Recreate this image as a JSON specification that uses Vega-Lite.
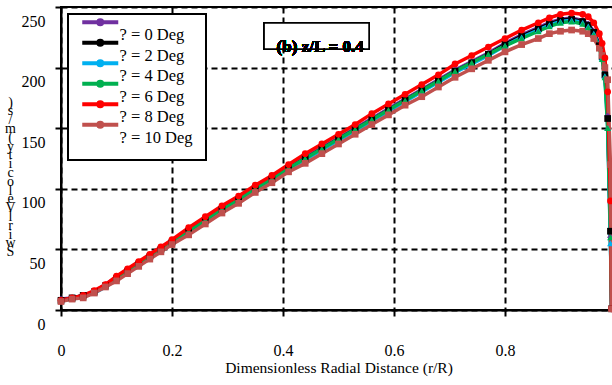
{
  "$schema": "https://vega.github.io/schema/vega-lite/v6.json",
  "autosize": {"type": "none"},
  "width": 555,
  "height": 303,
  "padding": {"left": 61, "top": 7, "right": -4, "bottom": 75},
  "background": "white",
  "config": {
    "font": "Liberation Serif",
    "view": {"stroke": "black", "strokeWidth": 2},
    "legend": {"strokeWidth": 2},
    "axis": {
      "labelFont": "Liberation Serif",
      "titleFont": "Liberation Serif",
      "labelColor": "black",
      "titleColor": "black",
      "domainColor": "black",
      "domainWidth": 2,
      "tickColor": "black",
      "tickWidth": 2,
      "tickSize": 6,
      "gridColor": "black",
      "gridWidth": 2,
      "gridDash": [6, 4],
      "gridOpacity": 1,
      "labelFontSize": 16,
      "labelFlush": false,
      "titleFontWeight": "normal"
    }
  },
  "data": {
    "values": [
      {"r": 0, "a0": 9, "a2": 8, "a4": 8, "a6": 8, "a8": 8, "a10": 7},
      {"r": 0.02, "a0": 10, "a2": 10, "a4": 9, "a6": 9, "a8": 10, "a10": 9},
      {"r": 0.04, "a0": 12, "a2": 12, "a4": 11, "a6": 11, "a8": 12, "a10": 10},
      {"r": 0.06, "a0": 15, "a2": 15, "a4": 14, "a6": 15, "a8": 16, "a10": 14},
      {"r": 0.08, "a0": 21, "a2": 20, "a4": 19, "a6": 20, "a8": 21, "a10": 19},
      {"r": 0.1, "a0": 27, "a2": 26, "a4": 25, "a6": 26, "a8": 28, "a10": 24},
      {"r": 0.12, "a0": 33, "a2": 32, "a4": 31, "a6": 32, "a8": 34, "a10": 30},
      {"r": 0.14, "a0": 39, "a2": 38, "a4": 37, "a6": 38, "a8": 40, "a10": 36},
      {"r": 0.16, "a0": 45, "a2": 44, "a4": 43, "a6": 44, "a8": 46, "a10": 42},
      {"r": 0.18, "a0": 51, "a2": 50, "a4": 49, "a6": 50, "a8": 52, "a10": 48},
      {"r": 0.2, "a0": 57, "a2": 56, "a4": 55, "a6": 56, "a8": 58, "a10": 54},
      {"r": 0.23, "a0": 66, "a2": 65, "a4": 64, "a6": 65, "a8": 68, "a10": 62},
      {"r": 0.26, "a0": 75, "a2": 74, "a4": 73, "a6": 74, "a8": 77, "a10": 71},
      {"r": 0.29, "a0": 84, "a2": 83, "a4": 82, "a6": 83, "a8": 86, "a10": 80},
      {"r": 0.32, "a0": 92, "a2": 91, "a4": 90, "a6": 91, "a8": 94, "a10": 88},
      {"r": 0.35, "a0": 101, "a2": 100, "a4": 99, "a6": 100, "a8": 103, "a10": 97},
      {"r": 0.38, "a0": 109, "a2": 108, "a4": 107, "a6": 108, "a8": 111, "a10": 105},
      {"r": 0.41, "a0": 118, "a2": 117, "a4": 116, "a6": 117, "a8": 120, "a10": 114},
      {"r": 0.44, "a0": 126, "a2": 125, "a4": 124, "a6": 125, "a8": 129, "a10": 121},
      {"r": 0.47, "a0": 134, "a2": 133, "a4": 132, "a6": 133, "a8": 137, "a10": 129},
      {"r": 0.5, "a0": 142, "a2": 141, "a4": 140, "a6": 141, "a8": 145, "a10": 137},
      {"r": 0.53, "a0": 150, "a2": 149, "a4": 148, "a6": 149, "a8": 153, "a10": 145},
      {"r": 0.56, "a0": 158, "a2": 157, "a4": 156, "a6": 157, "a8": 162, "a10": 153},
      {"r": 0.59, "a0": 166, "a2": 165, "a4": 164, "a6": 165, "a8": 170, "a10": 161},
      {"r": 0.62, "a0": 174, "a2": 173, "a4": 172, "a6": 173, "a8": 178, "a10": 169},
      {"r": 0.65, "a0": 182, "a2": 181, "a4": 180, "a6": 181, "a8": 186, "a10": 176},
      {"r": 0.68, "a0": 190, "a2": 189, "a4": 188, "a6": 189, "a8": 194, "a10": 184},
      {"r": 0.71, "a0": 198, "a2": 197, "a4": 196, "a6": 197, "a8": 203, "a10": 192},
      {"r": 0.74, "a0": 205, "a2": 204, "a4": 203, "a6": 204, "a8": 210, "a10": 199},
      {"r": 0.77, "a0": 212, "a2": 211, "a4": 210, "a6": 211, "a8": 217, "a10": 206},
      {"r": 0.8, "a0": 220, "a2": 219, "a4": 218, "a6": 218, "a8": 224, "a10": 213},
      {"r": 0.83, "a0": 227, "a2": 226, "a4": 225, "a6": 224, "a8": 231, "a10": 219},
      {"r": 0.86, "a0": 233, "a2": 232, "a4": 231, "a6": 230, "a8": 237, "a10": 224},
      {"r": 0.88, "a0": 237, "a2": 236, "a4": 235, "a6": 234, "a8": 241, "a10": 228},
      {"r": 0.9, "a0": 240, "a2": 239, "a4": 238, "a6": 237, "a8": 244, "a10": 230},
      {"r": 0.92, "a0": 241, "a2": 240, "a4": 239, "a6": 238, "a8": 245, "a10": 231},
      {"r": 0.94, "a0": 239, "a2": 238, "a4": 237, "a6": 236, "a8": 244, "a10": 230},
      {"r": 0.95, "a0": 236, "a2": 235, "a4": 234, "a6": 233, "a8": 242, "a10": 228},
      {"r": 0.96, "a0": 230, "a2": 229, "a4": 228, "a6": 227, "a8": 237, "a10": 224},
      {"r": 0.97, "a0": 219, "a2": 218, "a4": 217, "a6": 216, "a8": 228, "a10": 216},
      {"r": 0.975, "a0": 210, "a2": 209, "a4": 208, "a6": 207, "a8": 220, "a10": 210},
      {"r": 0.98, "a0": 195, "a2": 194, "a4": 193, "a6": 192, "a8": 208, "a10": 200},
      {"r": 0.985, "a0": 160, "a2": 158, "a4": 150, "a6": 150, "a8": 180, "a10": 190},
      {"r": 0.99, "a0": 60, "a2": 65, "a4": 55, "a6": 60, "a8": 90, "a10": 120},
      {"r": 0.992, "a0": 1, "a2": 1, "a4": 1, "a6": 1, "a8": 1, "a10": 1}
    ]
  },
  "resolve": {"scale": {"color": "independent", "shape": "independent"}, "legend": {"color": "independent"}},
  "layer": [
    {
      "transform": [{"fold": ["a0", "a2", "a4", "a6", "a8", "a10"], "as": ["s", "v"]}],
      "mark": {"type": "line", "strokeWidth": 3.5},
      "encoding": {
        "x": {
          "field": "r", "type": "quantitative",
          "scale": {"domain": [0, 1], "nice": false},
          "axis": {
            "values": [0, 0.2, 0.4, 0.6, 0.8, 1],
            "format": "~g",
            "labelPadding": 26,
            "title": "Dimensionless Radial Distance (r/R)",
            "titleFontSize": 15.5,
            "titlePadding": 2
          }
        },
        "y": {
          "field": "v", "type": "quantitative",
          "scale": {"domain": [0, 250], "nice": false},
          "axis": {
            "values": [0, 50, 100, 150, 200, 250],
            "labelPadding": 10,
            "labelOffset": 14,
            "title": [")", "s", "/", "m", "(", " ", "y", "t", "i", "c", "o", "l", "e", "V", " ", "l", "r", "i", "w", "S"],
            "titleAngle": 0,
            "titleFontSize": 14,
            "titleLineHeight": 8.8,
            "titleX": -51,
            "titleY": 88,
            "titleAlign": "center",
            "titleBaseline": "top"
          }
        },
        "color": {
          "field": "s", "type": "nominal",
          "scale": {
            "domain": ["a0", "a2", "a4", "a6", "a8", "a10"],
            "range": ["#7030A0", "#000000", "#00B0F0", "#00B050", "#FF0000", "#C0504D"]
          },
          "legend": {
            "title": null,
            "labelExpr": "'? = ' + slice(datum.label, 1) + ' Deg'",
            "orient": "none",
            "legendX": 7,
            "legendY": 7,
            "fillColor": "white",
            "strokeColor": "black",
            "padding": 13,
            "symbolType": "M-1.75,-3.25H7.25M2.25,-3.25A0.5,0.5 0 1 1 3.25,-3.25A0.5,0.5 0 1 1 2.25,-3.25",
            "symbolSize": 64,
            "symbolStrokeWidth": 4,
            "symbolOpacity": 1,
            "labelFont": "Liberation Serif",
            "labelFontSize": 16.5,
            "labelColor": "black",
            "labelOffset": 22,
            "rowPadding": -11.5
          }
        }
      }
    },
    {
      "transform": [{"fold": ["a0", "a2", "a4", "a6", "a8", "a10"], "as": ["t", "v"]}],
      "mark": {"type": "point", "filled": true, "size": 45, "opacity": 1},
      "encoding": {
        "x": {"field": "r", "type": "quantitative"},
        "y": {"field": "v", "type": "quantitative"},
        "color": {
          "field": "t", "type": "nominal",
          "scale": {
            "domain": ["a0", "a2", "a4", "a6", "a8", "a10"],
            "range": ["#7030A0", "#000000", "#00B0F0", "#00B050", "#FF0000", "#C0504D"]
          },
          "legend": null
        },
        "shape": {
          "field": "t", "type": "nominal",
          "scale": {
            "domain": ["a0", "a2", "a4", "a6", "a8", "a10"],
            "range": ["diamond", "square", "triangle-up", "triangle-up", "circle", "square"]
          },
          "legend": null
        }
      }
    },
    {
      "mark": {"type": "rect", "fill": "white", "stroke": "black", "strokeWidth": 1.5},
      "encoding": {
        "x": {"datum": 0.366},
        "x2": {"datum": 0.555},
        "y": {"datum": 215.3},
        "y2": {"datum": 236.8}
      }
    },
    {
      "mark": {"type": "text", "fontWeight": "bold", "fontSize": 17, "font": "Liberation Serif", "color": "black"},
      "encoding": {
        "x": {"datum": 0.467},
        "y": {"datum": 217},
        "text": {"value": "(b) z/L = 0.4"}
      }
    }
  ]
}
